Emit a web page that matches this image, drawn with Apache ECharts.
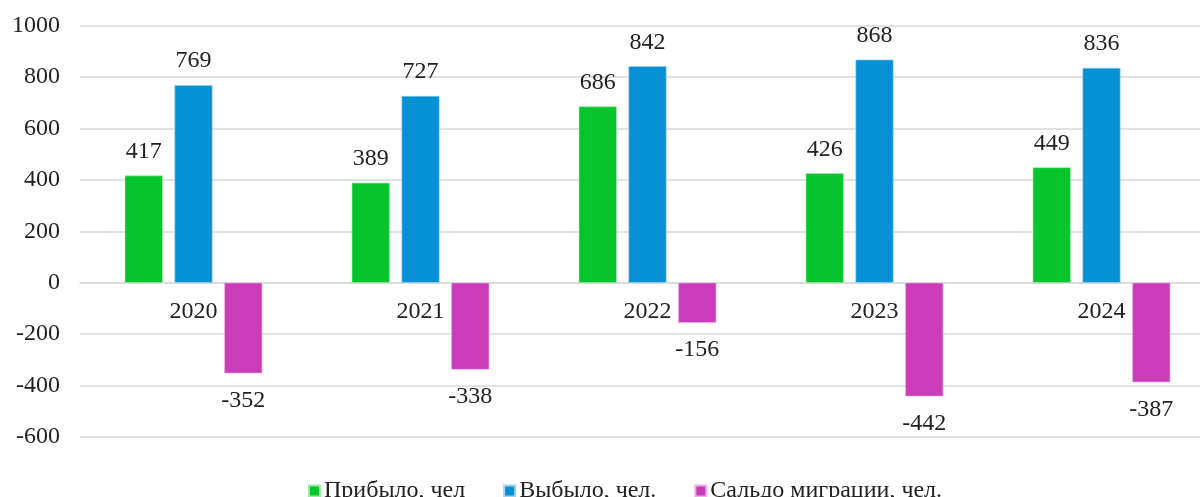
<!DOCTYPE html>
<html>
<head>
<meta charset="utf-8">
<script src="https://cdn.jsdelivr.net/npm/echarts@6/dist/echarts.min.js"></script>
<style>html,body{margin:0;padding:0;background:#fff;}#c{width:1200px;height:497px;}</style>
</head>
<body>
<div id="c"></div>
<script>
const categories = ['2020', '2021', '2022', '2023', '2024'];
const arrived = [417, 389, 686, 426, 449];
const departed = [769, 727, 842, 868, 836];
const balance = [-352, -338, -156, -442, -387];
const seriesNames = ['Прибыло, чел', 'Выбыло, чел.', 'Сальдо миграции, чел.'];
const yTicks = { min: -600, max: 1000, interval: 200 };

const font = 'Liberation Serif, Times New Roman, serif';
const chart = echarts.init(document.getElementById('c'), null, { renderer: 'canvas' });
const lbl = (pos, dist) => ({ show: true, position: pos, distance: dist, color: '#222', fontSize: 24, fontFamily: font });
const gridTop = 25.7, gridH = 411.3;
const zeroOffset = -gridH * (0 - yTicks.min) / (yTicks.max - yTicks.min);
chart.setOption({
  animation: false,
  backgroundColor: '#fff',
  grid: { left: 80, width: 1135, top: gridTop, height: gridH, containLabel: false, outerBoundsMode: 'none' },
  legend: {
    data: seriesNames,
    left: 308, top: 479, padding: 0,
    itemWidth: 11, itemHeight: 11, itemGap: 38,
    icon: 'rect',
    textStyle: { fontSize: 24, fontFamily: font, color: '#222', padding: [0, 0, 0, -1] }
  },
  xAxis: {
    type: 'category', data: categories, position: 'bottom', offset: zeroOffset,
    axisLine: { show: true, onZero: false, lineStyle: { color: '#d9d9d9', width: 1.5 } },
    axisTick: { show: false },
    axisLabel: { margin: 17, fontSize: 24, fontFamily: font, color: '#222' }
  },
  yAxis: {
    type: 'value', min: yTicks.min, max: yTicks.max, interval: yTicks.interval,
    axisLine: { show: false }, axisTick: { show: false },
    splitLine: { lineStyle: { color: '#d9d9d9', width: 1.5 } },
    axisLabel: { margin: 20, fontSize: 24, fontFamily: font, color: '#222', formatter: v => String(v) }
  },
  series: [
    { name: seriesNames[0], type: 'bar', data: arrived, barWidth: 38, barGap: '31%', barCategoryGap: '38%',
      itemStyle: { color: '#06C42C', borderColor: '#9ee8a8', borderWidth: 0.6 }, label: lbl('top', 12) },
    { name: seriesNames[1], type: 'bar', data: departed, barWidth: 38, barGap: '31%',
      itemStyle: { color: '#0690D6', borderColor: '#9fd3f0', borderWidth: 0.6 }, label: lbl('top', 12) },
    { name: seriesNames[2], type: 'bar', data: balance, barWidth: 38, barGap: '31%',
      itemStyle: { color: '#CB3CBA', borderColor: '#eeaee6', borderWidth: 0.6 }, label: lbl('bottom', 15) }
  ]
});
</script>
</body>
</html>
